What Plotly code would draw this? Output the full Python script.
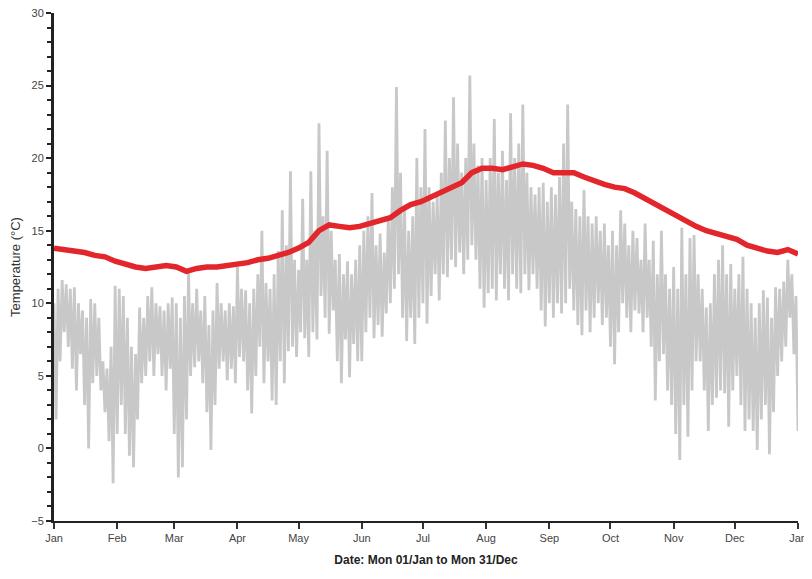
import pandas as pd
import plotly.graph_objects as go

# Air temperature envelope, read every 2 days: high then low of each 2-day bin (°C)
gray_hi = [
    10, 11, 11.6, 11.3, 11, 11.1, 10, 9.5, 9, 10.3, 10, 9, 6, 5.5, 7, 11.2,            # Jan
    11, 10.5, 9, 7, 6.5, 9.7, 9, 10.5, 11.1, 10, 9.8, 9.5, 10, 10.4,                   # Feb
    10, 9, 10.5, 12.1, 10, 11, 9.5, 10.5, 8.5, 9.5, 11.4, 10, 9.5, 10, 9.8, 12.5,      # Mar
    11, 10.9, 10, 11, 12, 15, 11.4, 11, 12, 13.6, 16.4, 14, 19.1, 13, 12.3,            # Apr
    17.2, 13, 19.1, 15, 22.4, 16, 20.5, 15, 13, 13.4, 12, 12.9, 12, 13, 14,            # May
    15, 16, 17.6, 14, 14.8, 13.5, 16, 18, 24.9, 19, 16.4, 15, 16, 20, 18,              # Jun
    22, 18, 17, 17.5, 19, 22.6, 20, 24.2, 21, 19, 20, 25.7, 21, 19.5, 20,              # Jul
    18.5, 20, 22.7, 19, 20.5, 18.5, 23.1, 20, 21, 23.7, 19, 18, 17.5, 18, 18.3, 17,    # Aug
    18, 17.5, 18.7, 21, 23.7, 17, 16.5, 16, 17.8, 16, 15.5, 16, 15, 15.5, 14,          # Sep
    15, 14, 16.4, 15.5, 14, 15, 14.5, 13, 15.5, 13, 14.3, 12, 15, 12, 11,              # Oct
    12.5, 11, 15.2, 12, 14.5, 14.7, 12, 11, 9.7, 10, 12, 13, 14, 12, 12.7, 11,         # Nov
    12, 13.2, 11, 10, 9, 10, 10.9, 10.4, 9, 11.1, 11, 11.5, 13, 12, 10.5,              # Dec
]
gray_lo = [
    2, 6, 8, 7, 5.5, 4, 6.5, 3, 0, 4.5, 5, 4, 2.5, 0.5, -2.4, 1,                       # Jan
    3, 1, -0.5, -1.3, 2, 4.5, 5, 6, 5, 6.5, 5, 4, 5.5, 1,                              # Feb
    -2, -1.3, 2, 5, 5.6, 6, 4.5, 2.5, -0.1, 3, 5.5, 6, 4.7, 5.5, 4.5, 6.3,             # Mar
    6, 4, 2.4, 5, 7, 4.5, 6, 3.3, 3, 6, 4.5, 6.7, 7, 6.3, 8,                           # Apr
    7.6, 6.3, 8, 7.5, 10.5, 9, 7.9, 9.5, 6, 4.5, 7.5, 4.9, 7.2, 6, 6,                  # May
    8, 9, 7.6, 8.5, 7.7, 9.3, 10, 11, 12, 9, 7.4, 9, 7.2, 9, 10,                       # Jun
    8.6, 10.5, 12, 10.2, 12, 11.8, 13, 12.5, 13.5, 12, 13, 14, 13, 11, 9.7,            # Jul
    10.7, 11, 10.2, 12, 11, 10.2, 12, 11, 10.7, 12, 10.9, 12, 11, 9.5, 8.4, 10,        # Aug
    9, 10, 9.3, 10, 11, 9.5, 8.5, 7.8, 9.5, 8, 9, 10, 8.5, 9, 7,                       # Sep
    5.8, 8, 10, 9, 8, 9.5, 9.3, 8, 9, 7, 3.3, 6, 6.5, 4, 3,                            # Oct
    1, -0.8, 3, 0.8, 4, 6, 6, 4, 1.2, 3, 3.5, 4, 3.8, 1.5, 4, 5,                       # Nov
    3, 1.2, 2, 1.2, -0.1, 2, 3, -0.4, 2.5, 5, 6, 7, 9, 6.5, 1.2,                       # Dec
]

# Red (sea) temperature, read every 5 days from Jan 1 (°C)
red_vals = [
    13.8, 13.7, 13.6, 13.5, 13.3, 13.2, 12.9, 12.7, 12.5, 12.4, 12.5, 12.6, 12.5,
    12.2, 12.4, 12.5, 12.5, 12.6, 12.7, 12.8, 13.0, 13.1, 13.3, 13.5, 13.8, 14.2,
    15.0, 15.4, 15.3, 15.2, 15.3, 15.5, 15.7, 15.9, 16.4, 16.8, 17.0, 17.3, 17.6,
    18.0, 18.3, 19.0, 19.3, 19.3, 19.2, 19.4, 19.6, 19.5, 19.3, 19.0, 19.0, 19.0,
    18.7, 18.4, 18.2, 18.0, 17.9, 17.6, 17.2, 16.8, 16.5, 16.0, 15.7, 15.3, 15.0,
    14.8, 14.6, 14.4, 14.0, 13.8, 13.6, 13.5, 13.7, 13.4,
]

y_ticks = [-5, 0, 5, 10, 15, 20, 25, 30]
x_title = "Date: Mon 01/Jan to Mon 31/Dec"
y_title = "Temperature (°C)"

start = pd.Timestamp("2018-01-01")

gx, gy = [], []
for i, (h, l) in enumerate(zip(gray_hi, gray_lo)):
    gx.append(start + pd.Timedelta(days=2 * i))
    gy.append(h)
    gx.append(start + pd.Timedelta(days=2 * i + 1))
    gy.append(l)

rx = [start + pd.Timedelta(days=5 * i) for i in range(len(red_vals))]

fig = go.Figure()
fig.add_trace(go.Scatter(x=gx, y=gy, mode="lines",
                         line=dict(color="#c8c8c8", width=2.8), showlegend=False))
fig.add_trace(go.Scatter(x=rx, y=red_vals, mode="lines",
                         line=dict(color="#e3262b", width=5.5), showlegend=False))

# page body has an 8px margin, so the figure is 8px smaller and offset
fig.update_layout(
    width=804, height=571,
    margin=dict(l=46, r=14, t=5, b=58),
    paper_bgcolor="white", plot_bgcolor="white",
    font=dict(family="Liberation Sans, Arial, sans-serif", size=11, color="#444"),
)
fig.update_xaxes(
    automargin=False, ticklabeloverflow="allow",
    range=[start, pd.Timestamp("2019-01-01")],
    dtick="M1", tickformat="%b", tick0="2018-01-01",
    ticks="outside", ticklen=6, tickwidth=2, tickcolor="#333",
    showline=True, linecolor="#222", linewidth=2,
    showgrid=False, zeroline=False,
    tickfont=dict(size=11, color="#444"),
    title=dict(text="<b>" + x_title + "</b>", font=dict(size=12, color="#222"), standoff=12),
)
fig.update_yaxes(
    automargin=False, ticklabeloverflow="allow",
    range=[-5, 30], tickvals=y_ticks,
    ticks="outside", ticklen=5, tickwidth=2, tickcolor="#222",
    minor=dict(dtick=1, tick0=0, ticks="outside", ticklen=4, tickwidth=2, tickcolor="#222"),
    showline=True, linecolor="#222", linewidth=3,
    showgrid=False, zeroline=False,
    tickfont=dict(size=11, color="#444"),
    title=dict(text=y_title, font=dict(size=13, color="#333"), standoff=10),
)

fig.write_html("out.html")
